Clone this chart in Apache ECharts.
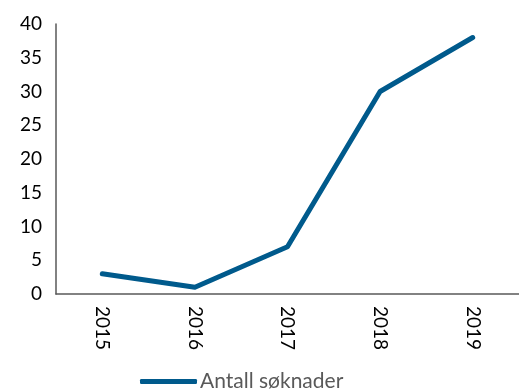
<!DOCTYPE html>
<html>
<head>
<meta charset="utf-8">
<script src="https://cdn.jsdelivr.net/npm/echarts@6/dist/echarts.min.js"></script>
<style>
  html, body { margin: 0; padding: 0; background: #fff; }
  #chart { width: 519px; height: 390px; }
</style>
</head>
<body>
<div id="chart"></div>
<script>
var years = ['2015', '2016', '2017', '2018', '2019'];
var antall = [3, 1, 7, 30, 38];
var yTicks = [0, 5, 10, 15, 20, 25, 30, 35, 40];

var chart = echarts.init(document.getElementById('chart'));

var option = {
    animation: false,
    textStyle: { fontFamily: 'Lato, "Noto Sans", sans-serif' },
    grid: { left: 56, right: 0, top: 24, bottom: 96, containLabel: false },
    legend: {
        data: ['Antall søknader'],
        left: 140,
        top: 371,
        padding: 0,
        itemWidth: 57,
        itemHeight: 5,
        itemGap: 10,
        icon: 'roundRect',
        textStyle: { color: '#595959', fontSize: 21, padding: [0, 0, 0, -2] }
    },
    xAxis: {
        type: 'category',
        data: years,
        boundaryGap: true,
        axisLine: { lineStyle: { color: '#595959', width: 1.5 } },
        axisTick: { show: false },
        axisLabel: { rotate: -90, color: '#000', fontSize: 19, margin: 12 }
    },
    yAxis: {
        type: 'value',
        min: yTicks[0],
        max: yTicks[yTicks.length - 1],
        interval: 5,
        axisLine: { show: true, lineStyle: { color: '#595959', width: 1.5 } },
        axisTick: { show: false },
        splitLine: { show: false },
        axisLabel: { color: '#000', fontSize: 19, margin: 14 }
    },
    series: [{
        name: 'Antall søknader',
        type: 'line',
        data: antall,
        showSymbol: false,
        symbol: 'none',
        lineStyle: { color: '#005A8C', width: 5, cap: 'round', join: 'round' },
        itemStyle: { color: '#005A8C' }
    }]
};

chart.setOption(option);
</script>
</body>
</html>
